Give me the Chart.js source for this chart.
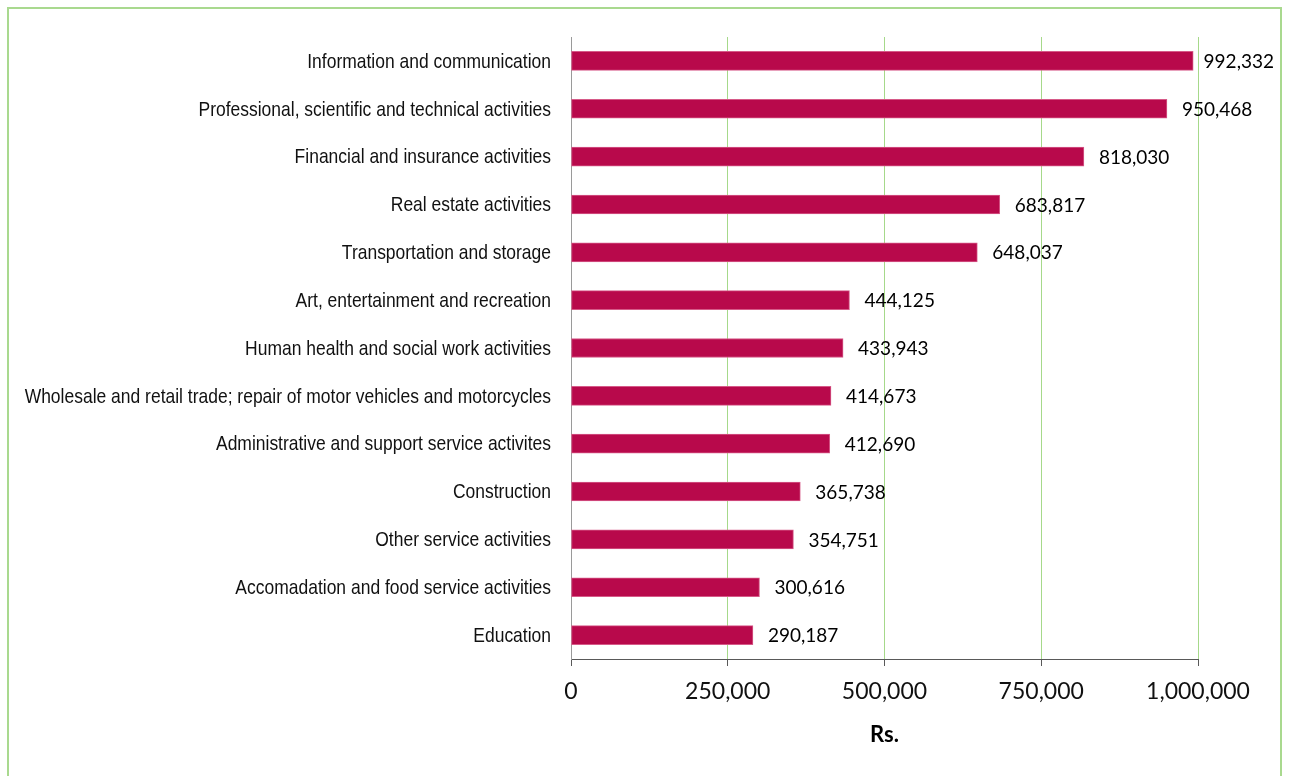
<!DOCTYPE html>
<html>
<head>
<meta charset="utf-8">
<script src="https://cdn.jsdelivr.net/npm/chart.js@4.4.1/dist/chart.umd.min.js"></script>
<style>
  html, body { margin: 0; padding: 0; background: #fff; overflow: hidden; }
  #wrap { position: relative; width: 1289px; height: 776px; }
  #frame { position: absolute; left: 7px; top: 7px; width: 1275px; height: 820px; border: 2px solid #a9d98f; box-sizing: border-box; pointer-events: none; }
  canvas { position: absolute; left: 0; top: 0; }
</style>
</head>
<body>
<div id="wrap">
  <div id="frame"></div>
  <canvas id="c" width="1289" height="776"></canvas>
</div>
<script>
const categories = [
  "Information and communication",
  "Professional, scientific and technical activities",
  "Financial and insurance activities",
  "Real estate activities",
  "Transportation and storage",
  "Art, entertainment and recreation",
  "Human health and social work activities",
  "Wholesale and retail trade; repair of motor vehicles and motorcycles",
  "Administrative and support service activites",
  "Construction",
  "Other service activities",
  "Accomadation and food service activities",
  "Education"
];
const values = [992332, 950468, 818030, 683817, 648037, 444125, 433943, 414673, 412690, 365738, 354751, 300616, 290187];
const xTicks = [0, 250000, 500000, 750000, 1000000];
const axisTitle = "Rs.";

const catFont = "'Liberation Sans', Arial, sans-serif";
const numFont = "Lato, 'Open Sans', sans-serif";
const narrow = 0.832;

const fmt = v => v.toLocaleString('en-US');

const valueLabels = {
  id: 'valueLabels',
  afterDatasetsDraw(chart) {
    const ctx = chart.ctx;
    const meta = chart.getDatasetMeta(0);
    ctx.save();
    ctx.font = "19px " + numFont;
    ctx.fillStyle = "#000";
    ctx.textAlign = "left";
    ctx.textBaseline = "middle";
    meta.data.forEach((bar, i) => {
      const t = fmt(values[i]);
      const w = ctx.measureText(t).width;
      const x = Math.min(bar.x + 15, 1274 - w);
      ctx.fillText(t, x, bar.y + 1);
    });
    ctx.restore();
  }
};

new Chart(document.getElementById('c'), {
  type: 'bar',
  data: {
    labels: categories,
    datasets: [{
      data: values,
      backgroundColor: '#b8094b',
      borderColor: '#d65a88',
      borderWidth: 1,
      borderSkipped: false,
      barThickness: 19
    }]
  },
  options: {
    indexAxis: 'y',
    responsive: false,
    animation: false,
    devicePixelRatio: 1,
    layout: { padding: { left: 0, right: 91, top: 37, bottom: 28 } },
    plugins: { legend: { display: false }, tooltip: { enabled: false } },
    scales: {
      x: {
        min: 0,
        max: 1000000,
        afterBuildTicks(scale) { scale.ticks = xTicks.map(v => ({ value: v })); },
        afterFit(scale) { scale.height = 89; },
        grid: {
          color: ctx => ctx.index === 0 ? 'rgba(0,0,0,0)' : '#a6d98a',
          lineWidth: 1,
          drawTicks: true,
          tickLength: 7,
          tickColor: '#595959'
        },
        border: { display: true, color: '#595959', width: 1 },
        ticks: {
          color: '#111',
          font: { family: numFont, size: 23 },
          padding: 12,
          maxRotation: 0,
          callback: v => fmt(v)
        },
        title: {
          display: true,
          text: axisTitle,
          color: '#000',
          font: { family: numFont, size: 22, weight: 'bold' },
          padding: { top: 0, bottom: 0 }
        }
      },
      y: {
        afterFit(scale) {
          scale.width = 571;
          if (!scale._narrowPatched) {
            scale._narrowPatched = true;
            const orig = scale.drawLabels;
            scale._computeLabelArea = function () { return undefined; };
            scale.drawLabels = function (area) {
              const ctx = this.ctx;
              const ax = this.right - 20;
              ctx.save();
              ctx.translate(ax, 1);
              ctx.scale(narrow, 1);
              ctx.translate(-ax, 0);
              orig.call(this, area);
              ctx.restore();
            };
          }
        },
        grid: { display: false },
        border: { display: true, color: '#9a9a9a', width: 1 },
        ticks: {
          color: '#111',
          font: { family: catFont, size: 21 },
          padding: 12,
          autoSkip: false
        }
      }
    }
  },
  plugins: [valueLabels]
});
</script>
</body>
</html>
